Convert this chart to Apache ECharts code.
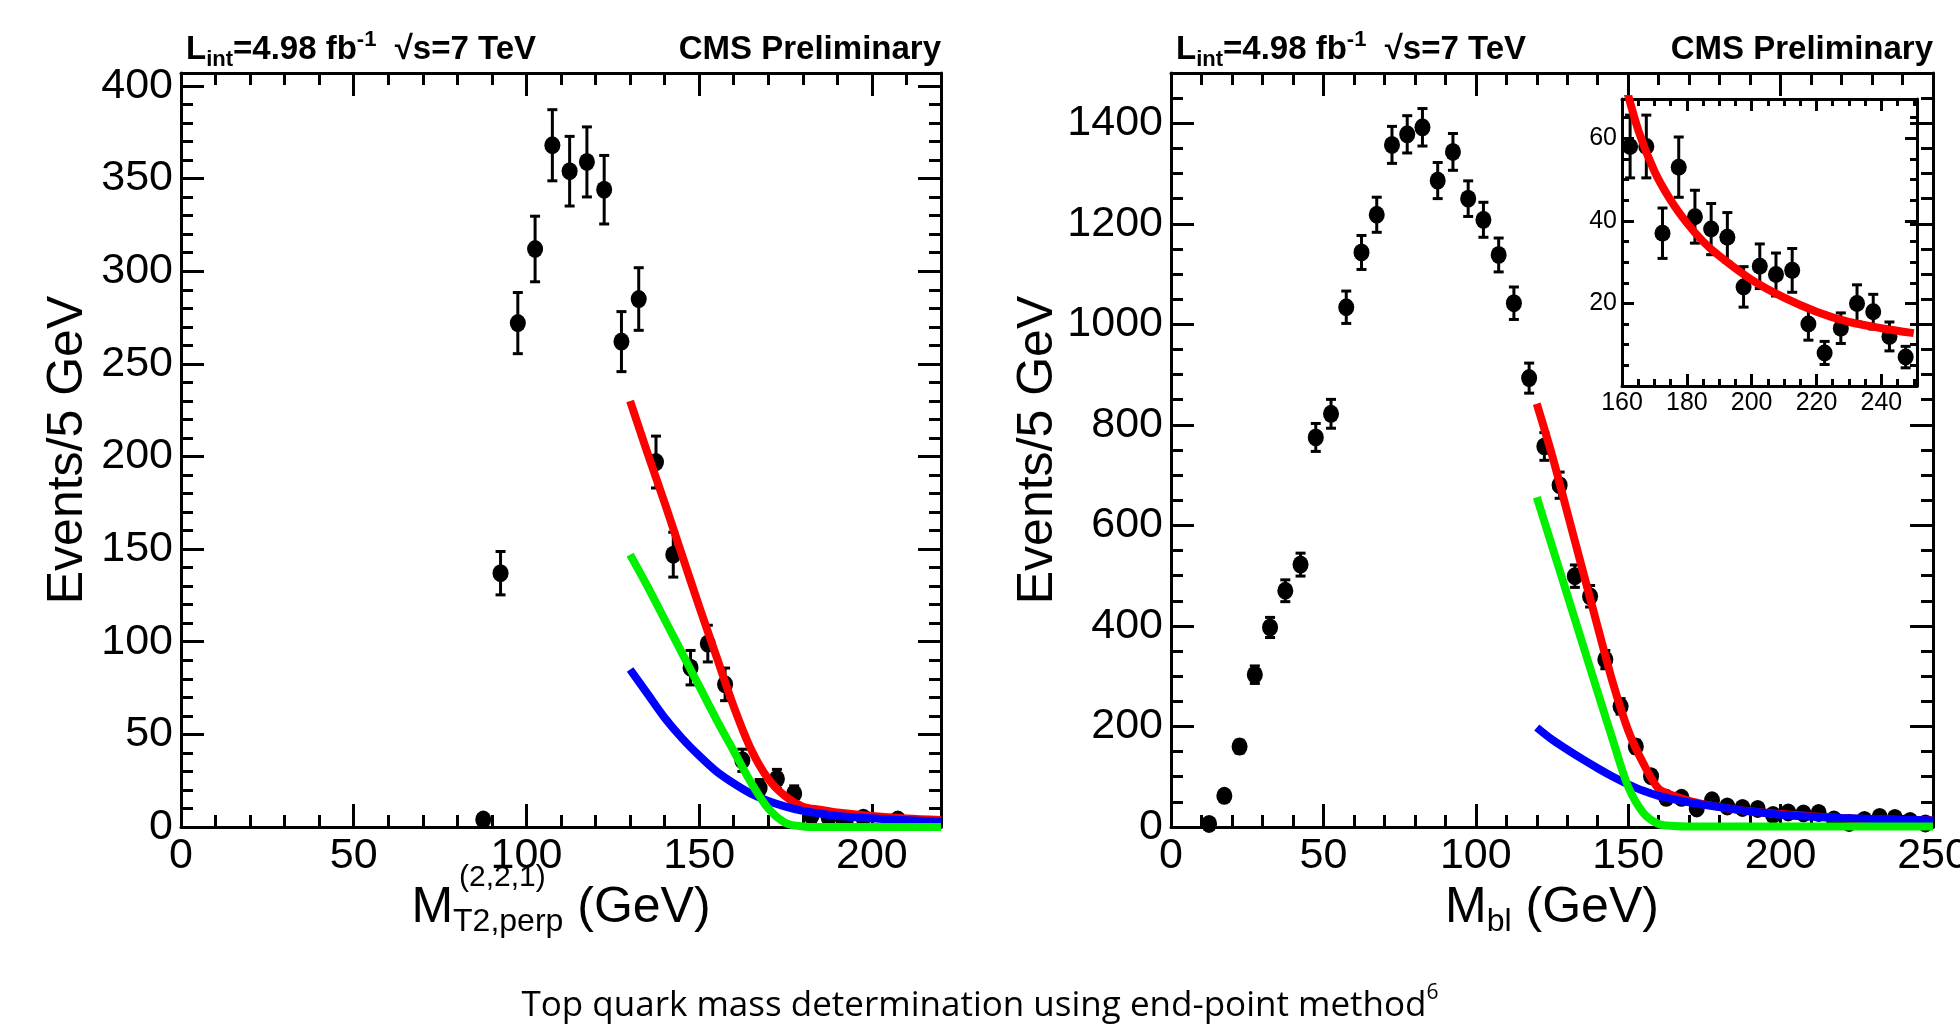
<!DOCTYPE html>
<html>
<head>
<meta charset="utf-8">
<title>Top quark mass determination using end-point method</title>
<script src="https://cdn.jsdelivr.net/npm/echarts@6.0.0/dist/echarts.min.js"></script>
<style>
  html, body { margin: 0; padding: 0; background: #fff; }
  #chart { width: 1960px; height: 1028px; }
</style>
</head>
<body>
<div id="chart"></div>
<script>
// =============================================================
// CMS 顶夸克质量 end-point 方法：左 M_T2,perp，右 M_bl（含放大插图）
// 数据点按 5 GeV 一格，取格中心；数值均从原图读出。
// =============================================================

// ---- 左图：M_T2,perp ----
const mt2Bins = [87.5, 92.5, 97.5, 102.5, 107.5, 112.5, 117.5, 122.5, 127.5, 132.5,
  137.5, 142.5, 147.5, 152.5, 157.5, 162.5, 167.5, 172.5, 177.5, 182.5,
  187.5, 192.5, 197.5, 207.5];
const mt2Events = [4, 137, 272, 312, 368, 354, 359, 344, 262, 285,
  197, 147, 86, 99, 77, 36, 21, 26, 18, 6,
  5, 4, 5, 4];
const mt2Errors = [2, 11.7, 16.5, 17.7, 19.2, 18.8, 18.9, 18.5, 16.2, 16.9,
  14, 12.1, 9.3, 9.9, 8.8, 6, 4.6, 5.1, 4.2, 2.4,
  2.2, 2, 2.2, 2];

// 拟合曲线（红 = 总和，绿 = 信号，蓝 = 本底）
const mt2CurveX = [130, 135, 140, 145, 150, 155, 160, 165, 170, 175, 180, 185, 190, 200, 210, 220];
const mt2Total = [230, 202, 175, 147, 119, 92, 65, 42, 26, 16.5, 11, 9.3, 7.8, 5.9, 4.6, 3.8];
const mt2Signal = [147, 130, 112, 94, 76, 58, 41, 24, 10, 2.2, 0.3, 0, 0, 0, 0, 0];
const mt2Background = [85, 72, 59, 48, 38.5, 30, 23.5, 18, 14, 11, 8.7, 7.2, 6, 4.7, 3.6, 2.9];

// ---- 右图：M_bl ----
const mblBins = [12.5, 17.5, 22.5, 27.5, 32.5, 37.5, 42.5, 47.5, 52.5, 57.5,
  62.5, 67.5, 72.5, 77.5, 82.5, 87.5, 92.5, 97.5, 102.5, 107.5,
  112.5, 117.5, 122.5, 127.5, 132.5, 137.5, 142.5, 147.5, 152.5, 157.5,
  162.5, 167.5, 172.5, 177.5, 182.5, 187.5, 192.5, 197.5, 202.5, 207.5,
  212.5, 217.5, 222.5, 227.5, 232.5, 237.5, 242.5, 247.5];
const mblEvents = [6, 62, 160, 303, 397, 470, 522, 775, 822, 1034,
  1143, 1218, 1357, 1378, 1392, 1286, 1343, 1250, 1208, 1138,
  1042, 893, 757, 680, 499, 459, 333, 240, 160, 101,
  58, 58, 37, 53, 41, 38, 36, 24, 29, 27,
  28, 15, 8, 14, 20, 18, 12, 7];
const mblErrors = [2.5, 8, 12.6, 17.4, 20, 21.7, 22.8, 27.8, 28.7, 32.2,
  33.8, 34.9, 36.8, 37.1, 37.3, 35.9, 36.6, 35.4, 34.8, 33.7,
  32.3, 29.9, 27.5, 26.1, 22.3, 21.4, 18.2, 15.5, 12.6, 10,
  7.6, 7.6, 6.1, 7.3, 6.4, 6.2, 6, 4.9, 5.4, 5.2,
  5.3, 3.9, 2.8, 3.7, 4.5, 4.2, 3.5, 2.6];

const mblCurveX = [120, 125, 130, 135, 140, 145, 150, 155, 160, 165, 170, 175, 180, 185, 190, 200, 210, 220, 230, 240, 250];
const mblTotal = [842, 740, 626, 512, 398, 286, 192, 126, 76, 62, 52, 45, 39.5, 35, 31.5, 25.7, 21.4, 18, 15.5, 14, 12.8];
const mblSignal = [656, 559, 462, 365, 268, 172, 80, 28, 6, 2, 1, 1, 1, 1, 1, 1, 1, 1, 1, 1, 1];
const mblBackground = [198, 174, 154, 135, 117, 100, 85, 72, 62, 55, 49, 44, 39.5, 35, 31, 24.5, 20.5, 18, 16, 14.3, 13];

// 插图只显示 M_bl >= 160 的部分
const insetFrom = 160;

// ---- 刻度标签 ----
const mt2XLabels = [0, 50, 100, 150, 200];
const mt2YLabels = [0, 50, 100, 150, 200, 250, 300, 350, 400];
const mblXLabels = [0, 50, 100, 150, 200, 250];
const mblYLabels = [0, 200, 400, 600, 800, 1000, 1200, 1400];
const insetXLabels = [160, 180, 200, 220, 240];
const insetYLabels = [20, 40, 60];

// 颜色 / 字体
const INK = "#000";
const RED = "#ff0000";
const GREEN = "#00f000";
const BLUE = "#0000ff";
const ROOT_FONT = "'Liberation Sans', Arial, Helvetica, sans-serif";
const SLIDE_FONT = "'Open Sans', 'Noto Sans', sans-serif";

const MAIN_TICKS = { major: 23, minor: 12 };
const INSET_TICKS = { major: 12, minor: 7 };

// ROOT 风格坐标轴：刻度朝内，上/右为镜像轴（不带标签）
function frameAxis(gridIndex, position, range, interval, split, labels, ticks, labelStyle) {
  const mirror = position === "top" || position === "right";
  return {
    type: "value",
    gridIndex: gridIndex,
    position: position,
    min: range[0],
    max: range[1],
    interval: interval,
    axisLine: { show: true, onZero: false, lineStyle: { color: INK, width: 3 } },
    axisTick: { show: true, inside: true, length: ticks.major, lineStyle: { color: INK, width: 3 } },
    minorTick: { show: true, splitNumber: split, length: ticks.minor, lineStyle: { color: INK, width: 3 } },
    splitLine: { show: false },
    axisLabel: {
      show: !mirror,
      color: INK,
      fontFamily: ROOT_FONT,
      fontSize: labelStyle.size,
      margin: labelStyle.margin,
      formatter: function (v) {
        return labels.indexOf(v) >= 0 ? String(v) : "";
      },
    },
  };
}

function withName(axis, extra) {
  return Object.assign(axis, extra);
}

// 误差棒：竖线 + 上下短横
function errorBars(axisIndex, xs, ys, errs, capHalf) {
  return {
    type: "custom",
    xAxisIndex: axisIndex,
    yAxisIndex: axisIndex,
    silent: true,
    z: 3,
    data: xs.map(function (x, i) { return [x, ys[i] - errs[i], ys[i] + errs[i]]; }),
    encode: { x: 0, y: [1, 2] },
    renderItem: function (params, api) {
      const lo = api.coord([api.value(0), api.value(1)]);
      const hi = api.coord([api.value(0), api.value(2)]);
      const st = { stroke: INK, lineWidth: 3 };
      return {
        type: "group",
        children: [
          { type: "line", shape: { x1: lo[0], y1: lo[1], x2: hi[0], y2: hi[1] }, style: st },
          { type: "line", shape: { x1: lo[0] - capHalf, y1: lo[1], x2: lo[0] + capHalf, y2: lo[1] }, style: st },
          { type: "line", shape: { x1: hi[0] - capHalf, y1: hi[1], x2: hi[0] + capHalf, y2: hi[1] }, style: st },
        ],
      };
    },
  };
}

function dataPoints(axisIndex, xs, ys, size) {
  return {
    type: "scatter",
    xAxisIndex: axisIndex,
    yAxisIndex: axisIndex,
    silent: true,
    z: 3,
    symbol: "circle",
    symbolSize: size,
    itemStyle: { color: INK, opacity: 1 },
    data: xs.map(function (x, i) { return [x, ys[i]]; }),
  };
}

function fitCurve(axisIndex, xs, ys, color, z) {
  return {
    type: "line",
    xAxisIndex: axisIndex,
    yAxisIndex: axisIndex,
    silent: true,
    z: z,
    showSymbol: false,
    symbol: "none",
    smooth: 0.3,
    clip: true,
    lineStyle: { color: color, width: 8 },
    data: xs.map(function (x, i) { return [x, ys[i]]; }),
  };
}

function pick(xs, ys) {
  const outX = [], outY = [];
  xs.forEach(function (x, i) {
    if (x >= insetFrom) { outX.push(x); outY.push(ys[i]); }
  });
  return [outX, outY];
}

const insetPts = pick(mblBins, mblEvents);
const insetErr = pick(mblBins, mblErrors);
const insetFit = pick(mblCurveX, mblTotal);

// 标题富文本样式
const headRich = {
  b: { fontFamily: ROOT_FONT, fontWeight: "bold", fontSize: 33, lineHeight: 42, color: INK },
  s: { fontFamily: ROOT_FONT, fontWeight: "bold", fontSize: 22, lineHeight: 12, verticalAlign: "bottom", color: INK },
  p: { fontFamily: ROOT_FONT, fontWeight: "bold", fontSize: 22, lineHeight: 14, verticalAlign: "top", color: INK },
};
const headText = "{b|L}{s|int}{b|=4.98 fb}{p|-1}{b|  \u221As=7 TeV}";

const nameRich = {
  m: { fontFamily: ROOT_FONT, fontSize: 50, lineHeight: 60, color: INK },
  s: { fontFamily: ROOT_FONT, fontSize: 32, lineHeight: 16, verticalAlign: "bottom", color: INK },
};
const yName = { fontFamily: ROOT_FONT, fontSize: 50, color: INK };

const chart = echarts.init(document.getElementById("chart"), null, { renderer: "canvas" });

const mainLabel = { size: 43, margin: 8 };
const insetLabel = { size: 25, margin: 5 };
const off = { size: 1, margin: 0 };

chart.setOption({
  animation: false,
  backgroundColor: "#fff",
  textStyle: { fontFamily: ROOT_FONT },
  grid: [
    { left: 181, top: 73, width: 760, height: 754, containLabel: false, outerBoundsMode: "none" },
    { left: 1171, top: 73, width: 762, height: 754, containLabel: false, outerBoundsMode: "none" },
    { left: 1622, top: 99, width: 295, height: 287, containLabel: false, outerBoundsMode: "none" },
  ],
  title: [
    { text: headText, left: 181, top: 24, textStyle: { rich: headRich } },
    { text: "{b|CMS Preliminary}", right: 1960 - 946, top: 24, textStyle: { rich: headRich } },
    { text: headText, left: 1171, top: 24, textStyle: { rich: headRich } },
    { text: "{b|CMS Preliminary}", right: 1960 - 1938, top: 24, textStyle: { rich: headRich } },
    {
      text: "{t|Top quark mass determination using end-point method}{u|6}",
      left: "center",
      top: 978,
      textStyle: {
        fontWeight: "normal",
        rich: {
          t: { fontFamily: SLIDE_FONT, fontWeight: "normal", fontSize: 35, lineHeight: 46, color: INK },
          u: { fontFamily: SLIDE_FONT, fontWeight: "normal", fontSize: 21, lineHeight: 22, verticalAlign: "top", color: INK },
        },
      },
    },
  ],
  graphic: [
    {
      type: "text",
      left: 459,
      top: 863,
      style: { text: "(2,2,1)", font: "30px " + ROOT_FONT, fill: INK },
    },
  ],
  xAxis: [
    withName(frameAxis(0, "bottom", [0, 220], 50, 5, mt2XLabels, MAIN_TICKS, mainLabel), {
      name: "{m|M}{s|T2,perp}{m| (GeV)}",
      nameLocation: "middle",
      nameGap: 50,
      nameTextStyle: { rich: nameRich },
    }),
    frameAxis(0, "top", [0, 220], 50, 5, mt2XLabels, MAIN_TICKS, off),
    withName(frameAxis(1, "bottom", [0, 250], 50, 5, mblXLabels, MAIN_TICKS, mainLabel), {
      name: "{m|M}{s|bl}{m| (GeV)}",
      nameLocation: "middle",
      nameGap: 50,
      nameTextStyle: { rich: nameRich },
    }),
    frameAxis(1, "top", [0, 250], 50, 5, mblXLabels, MAIN_TICKS, off),
    frameAxis(2, "bottom", [160, 251], 20, 4, insetXLabels, INSET_TICKS, insetLabel),
    frameAxis(2, "top", [160, 251], 20, 4, insetXLabels, INSET_TICKS, off),
  ],
  yAxis: [
    withName(frameAxis(0, "left", [0, 407], 50, 5, mt2YLabels, MAIN_TICKS, mainLabel), {
      name: "Events/5 GeV",
      nameLocation: "middle",
      nameRotate: 90,
      nameGap: 88,
      nameTextStyle: yName,
    }),
    frameAxis(0, "right", [0, 407], 50, 5, mt2YLabels, MAIN_TICKS, off),
    withName(frameAxis(1, "left", [0, 1500], 200, 4, mblYLabels, MAIN_TICKS, mainLabel), {
      name: "Events/5 GeV",
      nameLocation: "middle",
      nameRotate: 90,
      nameGap: 88,
      nameTextStyle: yName,
    }),
    frameAxis(1, "right", [0, 1500], 200, 4, mblYLabels, MAIN_TICKS, off),
    frameAxis(2, "left", [0, 69.5], 20, 4, insetYLabels, INSET_TICKS, insetLabel),
    frameAxis(2, "right", [0, 69.5], 20, 4, insetYLabels, INSET_TICKS, off),
  ],
  series: [
    // 左图
    errorBars(0, mt2Bins, mt2Events, mt2Errors, 5),
    dataPoints(0, mt2Bins, mt2Events, [16, 18]),
    fitCurve(0, mt2CurveX, mt2Total, RED, 4),
    fitCurve(0, mt2CurveX, mt2Background, BLUE, 5),
    fitCurve(0, mt2CurveX, mt2Signal, GREEN, 6),
    // 右图（坐标轴索引 2）
    errorBars(2, mblBins, mblEvents, mblErrors, 5),
    dataPoints(2, mblBins, mblEvents, [16, 18]),
    fitCurve(2, mblCurveX, mblTotal, RED, 4),
    fitCurve(2, mblCurveX, mblBackground, BLUE, 5),
    fitCurve(2, mblCurveX, mblSignal, GREEN, 6),
    // 插图（坐标轴索引 4）
    errorBars(4, insetErr[0], insetPts[1], insetErr[1], 5),
    dataPoints(4, insetPts[0], insetPts[1], [16, 17]),
    fitCurve(4, insetFit[0], insetFit[1], RED, 4),
  ],
});
</script>
</body>
</html>
